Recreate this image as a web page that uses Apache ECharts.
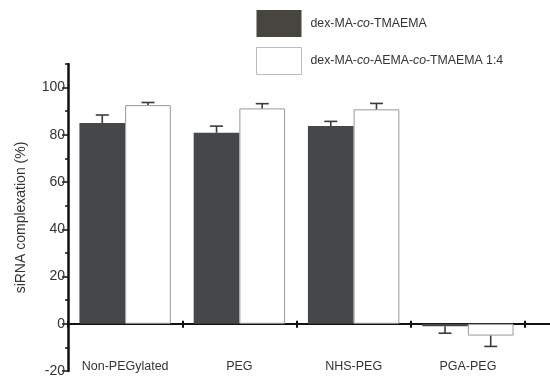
<!DOCTYPE html>
<html lang="en">
<head>
    <meta charset="UTF-8">
    <title>siRNA complexation</title>
    <script src="https://cdn.jsdelivr.net/npm/echarts@6/dist/echarts.min.js"></script>
</head>
<body style="margin:0">
<div id="main" style="width: 550px;height:379px;"></div>

<script>
    // values
    var categories = ['Non-PEGylated', 'PEG', 'NHS-PEG', 'PGA-PEG'];
    var tmaemaValues = [85, 80.9, 83.7, -1];
    var tmaemaErrors = [3.4, 2.8, 2, 3];
    var aemaValues = [92.6, 91.2, 90.8, -5];
    var aemaErrors = [1.1, 2, 2.5, 4.6];
    var yMajorTicks = [-20, 0, 20, 40, 60, 80, 100];
    var yMinorTicks = [-10, 10, 30, 50, 70, 90, 110];

    var font = 'Liberation Sans, Arial, sans-serif';

    function errData(vals, errs) {
        var out = [];
        for (var i = 0; i < vals.length; i++) {
            out.push([i, vals[i], errs[i]]);
        }
        return out;
    }

    // whisker drawn from the bar top, side = -1 for left bar, 1 for right bar
    function errRenderer(side, color) {
        return function (params, api) {
            var idx = api.value(0), val = api.value(1), err = api.value(2);
            var dir = val >= 0 ? 1 : -1;
            var bw = api.size([1, 0])[0];
            var base = api.coord([idx, val]);
            var tip = api.coord([idx, val + dir * err]);
            var x = base[0] + side * bw * 0.2;
            var half = 6.5;
            return {
                type: 'group',
                children: [{
                    type: 'line',
                    shape: {x1: x, y1: base[1], x2: x, y2: tip[1]},
                    style: {stroke: color, lineWidth: 1.6}
                }, {
                    type: 'line',
                    shape: {x1: x - half, y1: tip[1], x2: x + half, y2: tip[1]},
                    style: {stroke: color, lineWidth: 1.6}
                }]
            };
        };
    }

    var chart = echarts.init(document.getElementById('main'));
    var option = {
        animation: false,
        backgroundColor: '#fff',
        textStyle: {fontFamily: font},
        legend: {
            orient: 'vertical',
            left: 256,
            top: 10,
            padding: 0,
            icon: 'rect',
            itemWidth: 45,
            itemHeight: 27,
            itemGap: 10,
            data: [
                {name: 'dex-MA-co-TMAEMA', itemStyle: {color: '#48443f'}},
                {name: 'dex-MA-co-AEMA-co-TMAEMA 1:4', itemStyle: {color: '#fff', borderColor: '#bbb', borderWidth: 1}}
            ],
            formatter: function (name) {
                return name.split('co').map(function (p, i, arr) {
                    var s = '{n|' + p + '}';
                    if (i < arr.length - 1) s += '{i|co}';
                    return s;
                }).join('');
            },
            textStyle: {
                padding: [0, 0, 0, 4],
                rich: {
                    n: {fontFamily: font, fontSize: 12.3, color: '#333'},
                    i: {fontFamily: font, fontSize: 12.3, color: '#333', fontStyle: 'italic'}
                }
            }
        },
        grid: [
            {left: 68, right: 25, top: 64, bottom: 8, outerBoundsMode: 'none'},
            {left: 68, right: 0, top: 64, bottom: 8, outerBoundsMode: 'none'}
        ],
        xAxis: [{
            type: 'category',
            gridIndex: 0,
            data: categories,
            axisLine: {onZero: true, lineStyle: {color: '#111', width: 2}},
            axisTick: {show: true, length: 4, lineStyle: {color: '#111', width: 2}},
            axisLabel: {margin: -11, fontSize: 12.5, color: '#333', fontFamily: font}
        }, {
            type: 'category',
            gridIndex: 0,
            position: 'top',
            data: categories,
            axisLine: {show: false, onZero: true},
            axisTick: {show: true, length: 3, lineStyle: {color: '#111', width: 2}},
            axisLabel: {show: false}
        }, {
            type: 'value',
            gridIndex: 1,
            min: 0,
            max: 1,
            axisLine: {onZero: true, lineStyle: {color: '#111', width: 2}},
            axisTick: {show: false},
            axisLabel: {show: false},
            splitLine: {show: false}
        }],
        yAxis: [{
            type: 'value',
            gridIndex: 0,
            min: -20,
            max: 110,
            name: 'siRNA complexation (%)',
            nameLocation: 'middle',
            nameGap: 40,
            nameTextStyle: {fontSize: 14, color: '#333', fontFamily: font},
            axisLine: {show: true, lineStyle: {color: '#111', width: 2.5}},
            axisTick: {show: true, customValues: yMajorTicks, length: 6, lineStyle: {color: '#111', width: 1.5}},
            axisLabel: {customValues: yMajorTicks, margin: 3, fontSize: 14, color: '#333', fontFamily: font},
            splitLine: {show: false}
        }, {
            type: 'value',
            gridIndex: 0,
            position: 'left',
            min: -20,
            max: 110,
            axisLine: {show: false},
            axisTick: {show: true, customValues: yMinorTicks, length: 3, lineStyle: {color: '#111', width: 1.5}},
            axisLabel: {show: false},
            splitLine: {show: false}
        }, {
            type: 'value',
            gridIndex: 1,
            min: -20,
            max: 110,
            show: false
        }],
        series: [{
            name: 'dex-MA-co-TMAEMA',
            type: 'bar',
            xAxisIndex: 0,
            yAxisIndex: 0,
            data: tmaemaValues,
            barGap: '0%',
            barCategoryGap: '20%',
            itemStyle: {color: '#44484b'}
        }, {
            name: 'dex-MA-co-AEMA-co-TMAEMA 1:4',
            type: 'bar',
            xAxisIndex: 0,
            yAxisIndex: 0,
            data: aemaValues,
            barGap: '0%',
            barCategoryGap: '20%',
            itemStyle: {color: '#fff', borderColor: '#999', borderWidth: 1}
        }, {
            type: 'custom',
            xAxisIndex: 0,
            yAxisIndex: 0,
            renderItem: errRenderer(-1, '#3a3a3a'),
            encode: {x: 0, y: 1},
            data: errData(tmaemaValues, tmaemaErrors),
            z: 3
        }, {
            type: 'custom',
            xAxisIndex: 0,
            yAxisIndex: 0,
            renderItem: errRenderer(1, '#3a3a3a'),
            encode: {x: 0, y: 1},
            data: errData(aemaValues, aemaErrors),
            z: 3
        }]
    };
    chart.setOption(option);
</script>
</body>
</html>
